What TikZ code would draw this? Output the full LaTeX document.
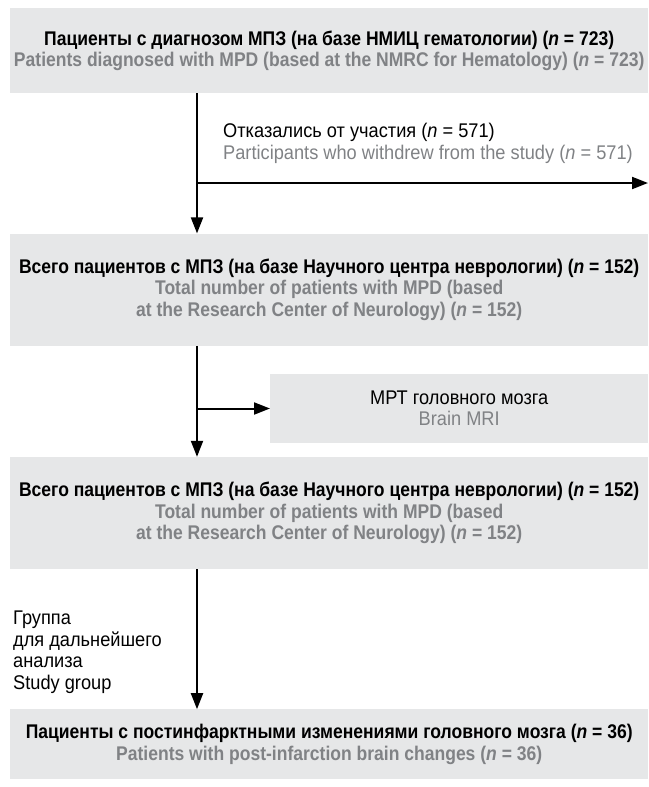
\documentclass[tikz,border=0pt]{standalone}
\usepackage{fontspec}
\setmainfont{Liberation Sans}[
    UprightFeatures={FakeStretch=0.92},
    ItalicFeatures={FakeStretch=0.92},
    BoldFeatures={FakeStretch=0.885},
    BoldItalicFeatures={FakeStretch=0.885}]
\usepackage{xcolor}
\usetikzlibrary{arrows.meta, positioning, calc}

\definecolor{boxgrey}{HTML}{E6E7E8}
\definecolor{txtgrey}{HTML}{808285}
\newcommand{\flowsize}{\fontsize{19.8}{21.5}\selectfont}

\begin{document}
\begin{tikzpicture}[x=1pt, y=1pt,
    box/.style={rectangle, fill=boxgrey, inner sep=0pt, minimum width=638pt, align=center, font=\flowsize\bfseries},
    side/.style={rectangle, fill=boxgrey, inner sep=0pt, minimum width=378pt, minimum height=69pt, align=center, font=\flowsize},
    note/.style={inner sep=0pt, align=left, font=\flowsize},
    arrow/.style={-{Triangle[width=12pt, length=16pt]}, line width=2pt}
]
\useasboundingbox (0,0) rectangle (648,-787);

\node[box, minimum height=85pt, anchor=north west] (b1) at (10,-8)
    {Пациенты с диагнозом МПЗ (на базе НМИЦ гематологии) (\textit{n} = 723)\\
     \textcolor{txtgrey}{Patients diagnosed with MPD (based at the NMRC for Hematology) (\textit{n} = 723)}};
\node[box, minimum height=112pt, below=140pt of b1] (b2)
    {Всего пациентов с МПЗ (на базе Научного центра неврологии) (\textit{n} = 152)\\
     \textcolor{txtgrey}{Total number of patients with MPD (based}\\
     \textcolor{txtgrey}{at the Research Center of Neurology) (\textit{n} = 152)}};
\node[side, below=28pt of b2.south east, anchor=north east] (mri)
    {МРТ головного мозга\\ \textcolor{txtgrey}{Brain MRI}};
\node[box, minimum height=112pt, below=111pt of b2] (b3)
    {Всего пациентов с МПЗ (на базе Научного центра неврологии) (\textit{n} = 152)\\
     \textcolor{txtgrey}{Total number of patients with MPD (based}\\
     \textcolor{txtgrey}{at the Research Center of Neurology) (\textit{n} = 152)}};
\node[box, minimum height=70pt, below=140pt of b3] (b4)
    {Пациенты с постинфарктными изменениями головного мозга (\textit{n} = 36)\\
     \textcolor{txtgrey}{Patients with post-infarction brain changes (\textit{n} = 36)}};

% side labels
\node[note, anchor=north west] (wd) at (223,-123)
    {Отказались от участия (\textit{n} = 571)\\
     \textcolor{txtgrey}{Participants who withdrew from the study (\textit{n} = 571)}};
\node[note, anchor=north west] (sg) at (13,-611)
    {Группа\\ для дальнейшего\\ анализа\\ Study group};

% trunk
\coordinate (tx) at (197,0);
\coordinate (wdend) at (648,-183);
\draw[arrow] (b1.south -| tx) -- (b2.north -| tx);
\draw[arrow] (wdend -| tx) -- (wdend);
\draw[arrow] (b2.south -| tx) -- (b3.north -| tx);
\draw[arrow] (mri.west -| tx) -- (mri.west);
\draw[arrow] (b3.south -| tx) -- (b4.north -| tx);
\end{tikzpicture}
\end{document}
